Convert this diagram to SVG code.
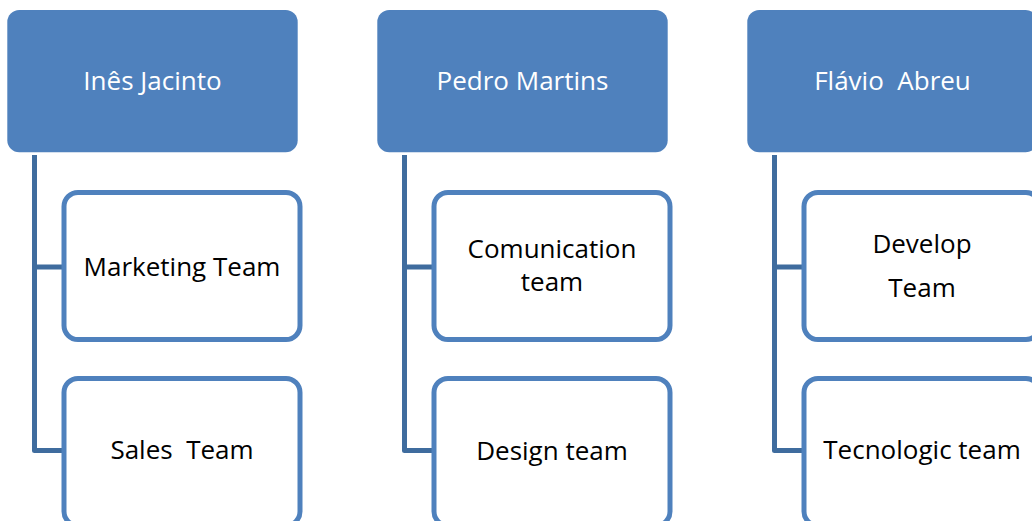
<svg xmlns="http://www.w3.org/2000/svg" width="1032" height="521" viewBox="0 0 1032 521">
  <style>
    .head { fill: #4F81BD; }
    .team { fill: #FFFFFF; stroke: #4F81BD; stroke-width: 5; }
    .link { fill: none; stroke: #3F6C9E; stroke-width: 5; stroke-linejoin: round; }
    text { font-family: "Open Sans", "Liberation Sans", sans-serif; font-size: 26px; text-anchor: middle; white-space: pre; }
    .head-label { fill: #FFFFFF; }
    .team-label { fill: #000000; }
  </style>
  <rect width="1032" height="521" fill="#FFFFFF"/>

  <!-- connectors: a spine under each manager with a branch to each team -->
  <g id="connectors">
    <path class="link" d="M34.5 155 V450.5 H64 M34.5 267 H64"/>
    <path class="link" d="M404.5 155 V450.5 H434 M404.5 267 H434"/>
    <path class="link" d="M774.5 155 V450.5 H804 M774.5 267 H804"/>
  </g>

  <!-- column 1 -->
  <g id="ines-jacinto">
    <rect class="head" x="7.3" y="10" width="290.4" height="142.3" rx="12"/>
    <text class="head-label" x="152.5" y="90">Inês Jacinto</text>
  </g>
  <g id="marketing-team">
    <rect class="team" x="64" y="192.5" width="236" height="147" rx="14"/>
    <text class="team-label" x="182" y="275.5">Marketing Team</text>
  </g>
  <g id="sales-team">
    <rect class="team" x="64" y="378.5" width="236" height="147" rx="14"/>
    <text class="team-label" x="182" y="459.3">Sales  Team</text>
  </g>

  <!-- column 2 -->
  <g id="pedro-martins">
    <rect class="head" x="377.3" y="10" width="290.4" height="142.3" rx="12"/>
    <text class="head-label" x="522.5" y="90">Pedro Martins</text>
  </g>
  <g id="comunication-team">
    <rect class="team" x="434" y="192.5" width="236" height="147" rx="14"/>
    <text class="team-label" x="552" y="258">Comunication</text>
    <text class="team-label" x="552" y="291">team</text>
  </g>
  <g id="design-team">
    <rect class="team" x="434" y="378.5" width="236" height="147" rx="14"/>
    <text class="team-label" x="552" y="460">Design team</text>
  </g>

  <!-- column 3 -->
  <g id="flavio-abreu">
    <rect class="head" x="747.3" y="10" width="290.4" height="142.3" rx="12"/>
    <text class="head-label" x="892.5" y="90">Flávio  Abreu</text>
  </g>
  <g id="develop-team">
    <rect class="team" x="804" y="192.5" width="236" height="147" rx="14"/>
    <text class="team-label" x="922" y="252.7">Develop</text>
    <text class="team-label" x="922" y="296.7">Team</text>
  </g>
  <g id="tecnologic-team">
    <rect class="team" x="804" y="378.5" width="236" height="147" rx="14"/>
    <text class="team-label" x="922" y="459.3">Tecnologic team</text>
  </g>
</svg>
